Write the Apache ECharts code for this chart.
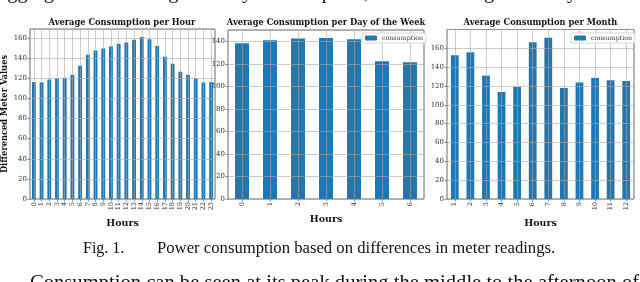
<!DOCTYPE html>
<html><head><meta charset="utf-8">
<script src="https://cdn.jsdelivr.net/npm/echarts@6/dist/echarts.min.js"></script>
<style>html,body{margin:0;padding:0;background:#fff}#c{width:640px;height:282px}</style>
</head><body><div id="c"></div>
<script>
// ---- data ----
const hours = ['0','1','2','3','4','5','6','7','8','9','10','11','12','13','14','15','16','17','18','19','20','21','22','23'];
const hourValues = [116.2,115.9,118.8,119.8,120.5,123.5,132.4,143.4,147.7,149.7,151.7,154.4,155.7,158.3,161.0,158.7,152.0,141.4,134.4,126.5,123.5,119.8,115.9,116.2];
const days = ['0','1','2','3','4','5','6'];
const dayValues = [138.2,140.9,142.4,142.9,141.8,122.3,121.4];
const months = ['1','2','3','4','5','6','7','8','9','10','11','12'];
const monthValues = [152.6,155.8,131.0,113.7,119.0,166.4,171.3,118.0,123.6,128.6,126.1,125.4];
const titles = ['Average Consumption per Hour','Average Consumption per Day of the Week','Average Consumption per Month'];
const xName = 'Hours';
const yName = 'Differenced Meter Values';
const legendName = 'consumption';
const yMax = [169, 150, 180];
const captionLabel = 'Fig. 1.';
const captionText = 'Power consumption based on differences in meter readings.';
const topText = 'aggregated the average weekly consumption, and the average monthly consumption per';
const bottomText = 'Consumption can be seen at its peak during the middle to the afternoon of';

// ---- chart ----
const serif = 'DejaVu Serif';
const grids = [
  {left: 29, top: 29, width: 186, height: 170},
  {left: 228, top: 30, width: 196, height: 169},
  {left: 447, top: 29.5, width: 187, height: 169.5}
];
const cats = [hours, days, months];
const vals = [hourValues, dayValues, monthValues];
const nameGaps = [17, 13, 17];
const gridLine = {show: true, lineStyle: {color: 'rgba(170,170,170,0.75)', width: 0.8}};
const legendBase = {data: [legendName], top: 33, itemWidth: 12, itemHeight: 5, itemGap: 4,
  padding: [2, 3, 2, 3], borderColor: '#ccc', borderWidth: 0.8, borderRadius: 2, backgroundColor: '#fff',
  textStyle: {fontFamily: serif, fontSize: 6.3, color: '#333'}, selectedMode: false};

const option = {
  animation: false,
  grid: grids.map(g => Object.assign({show: true, borderColor: '#444', borderWidth: 0.8, backgroundColor: 'transparent'}, g)),
  xAxis: cats.map((c, i) => ({
    type: 'category', gridIndex: i, data: c, z: 3,
    name: xName, nameLocation: 'middle', nameGap: nameGaps[i],
    nameTextStyle: {fontFamily: serif, fontWeight: 'bold', fontSize: 9.5, color: '#111'},
    axisLine: {show: false},
    axisTick: {show: true, alignWithLabel: true, length: 2.5, lineStyle: {color: '#444', width: 0.6}},
    axisLabel: {rotate: 90, fontFamily: serif, fontSize: 6.5, color: '#333', margin: 3, interval: 0},
    splitLine: Object.assign({alignWithLabel: true}, gridLine)
  })),
  yAxis: yMax.map((m, i) => ({
    type: 'value', gridIndex: i, min: 0, max: m, interval: 20, z: 3,
    name: i === 0 ? yName : '', nameLocation: 'middle', nameGap: 21,
    nameTextStyle: {fontFamily: serif, fontWeight: 'bold', fontSize: 8.3, color: '#111'},
    axisLine: {show: false},
    axisTick: {show: true, length: 2.5, lineStyle: {color: '#444', width: 0.6}},
    axisLabel: {fontFamily: serif, fontSize: 7, color: '#333', margin: 3, showMaxLabel: false},
    splitLine: gridLine
  })),
  legend: [
    Object.assign({left: 362}, legendBase),
    Object.assign({left: 571}, legendBase)
  ],
  series: vals.map((v, i) => ({
    type: 'bar', name: i === 0 ? 'hourly' : legendName, xAxisIndex: i, yAxisIndex: i,
    data: v, barWidth: '50%', itemStyle: {color: '#1f77b4'}, silent: true
  })),
  graphic: [
    ...titles.map((t, i) => ({
      type: 'text', x: grids[i].left + grids[i].width / 2, y: 23,
      style: {text: t, fontFamily: serif, fontWeight: 'bold', fontSize: 8.3, fill: '#111', align: 'center', verticalAlign: 'middle'}
    })),
    {type: 'text', x: 83, y: 249, style: {text: captionLabel, fontFamily: 'Liberation Serif', fontSize: 16, fill: '#111', align: 'left', verticalAlign: 'middle'}},
    {type: 'text', x: 157, y: 249, style: {text: captionText, fontFamily: 'Liberation Serif', fontSize: 16.7, fill: '#111', align: 'left', verticalAlign: 'middle'}},
    {type: 'text', x: 30, y: 273, style: {text: bottomText, fontFamily: 'Liberation Serif', fontSize: 20.6, fill: '#111', align: 'left', verticalAlign: 'top'}},
    {type: 'text', x: -2, y: 3, style: {text: topText, fontFamily: 'Liberation Serif', fontSize: 20.6, fill: '#111', align: 'left', verticalAlign: 'bottom'}}
  ]
};
echarts.init(document.getElementById('c'), null, {renderer: 'canvas'}).setOption(option);
</script></body></html>
